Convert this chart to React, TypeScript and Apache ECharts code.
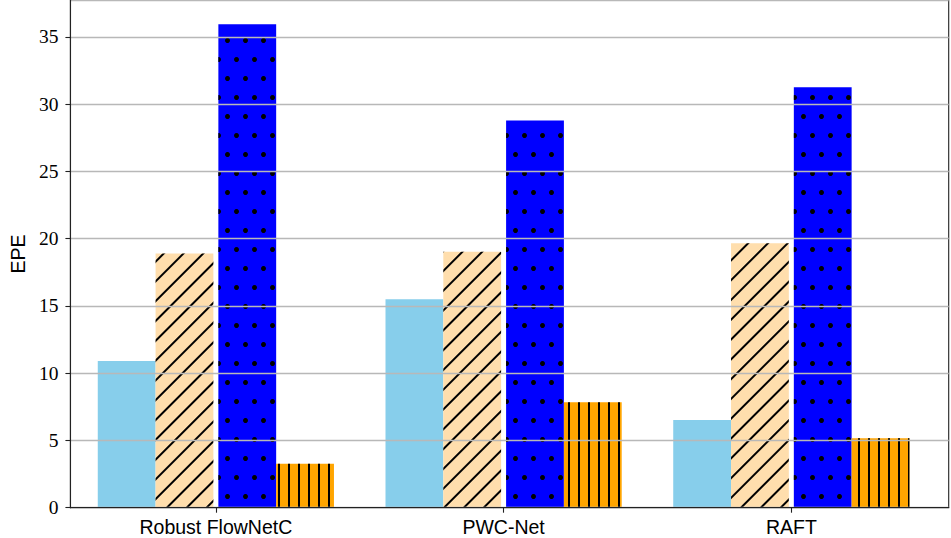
import React, { useEffect, useRef } from 'react';
import * as echarts from 'echarts';

const categories = ['Robust FlowNetC', 'PWC-Net', 'RAFT'];
const seriesSky = [10.9, 15.5, 6.52];
const seriesHatch = [18.9, 19.02, 19.65];
const seriesDots = [35.94, 28.78, 31.26];
const seriesVert = [3.27, 7.83, 5.16];
const yMin = 0;
const yMax = 37.7;
const yStep = 5;

export default function App() {
  const ref = useRef<HTMLDivElement>(null);
  useEffect(() => {
    document.body.style.margin = '0';
    const chart = echarts.init(ref.current!, null, { renderer: 'svg' });
    const barW = 57.8;
    const outerGrid = { left: 57, right: 2.3, top: 0.5, bottom: 30.3 };
    const innerGrid = { left: 72, right: 15.8, top: 0.5, bottom: 30.3 };
    const axisColor = '#222';
    chart.setOption({
      animation: false,
      backgroundColor: '#fff',
      grid: [
        { ...outerGrid, show: true, borderColor: axisColor, borderWidth: 1.1, backgroundColor: 'transparent', z: 10 },
        { ...innerGrid, show: false },
      ],
      xAxis: [
        {
          type: 'value', gridIndex: 0, min: -0.55, max: 2.55, z: 10,
          axisLine: { show: true, onZero: false, lineStyle: { color: axisColor, width: 1.1 } },
          axisTick: { show: false }, axisLabel: { show: false }, splitLine: { show: false },
        },
        {
          type: 'category', gridIndex: 1, data: categories, z: 10,
          axisLine: { show: false, onZero: false },
          axisTick: { show: true, alignWithLabel: true, length: 5, lineStyle: { color: axisColor, width: 1.1 } },
          axisLabel: { color: '#000', fontFamily: 'Liberation Sans', fontSize: 19.5, margin: 9 },
        },
      ],
      yAxis: [
        {
          type: 'value', gridIndex: 0, min: yMin, max: yMax, interval: yStep, z: 10,
          name: 'EPE', nameLocation: 'middle', nameGap: 40,
          nameTextStyle: { color: '#000', fontFamily: 'Liberation Sans', fontSize: 19.5 },
          axisLine: { show: true, onZero: false, lineStyle: { color: axisColor, width: 1.1 } },
          axisTick: { show: true, length: 5, lineStyle: { color: axisColor, width: 1.1 } },
          axisLabel: { color: '#000', fontFamily: 'Liberation Serif', fontSize: 19.5, margin: 12,
            showMaxLabel: false },
          splitLine: { show: true, lineStyle: { color: '#b8b8b8', width: 1.3 } },
        },
        { type: 'value', gridIndex: 1, min: yMin, max: yMax, show: false, axisLine: { onZero: false } },
      ],
      series: [
        {
          type: 'bar', xAxisIndex: 1, yAxisIndex: 1, data: seriesSky, barWidth: barW, barGap: '0%',
          itemStyle: { color: '#87CEEB' },
        },
        {
          type: 'bar', xAxisIndex: 1, yAxisIndex: 1, data: seriesHatch, barWidth: barW, barGap: '0%',
          itemStyle: {
            color: '#FFDEAD',
            decal: {
              symbol: 'rect', symbolSize: 1, symbolKeepAspect: false, color: '#000',
              dashArrayX: [10, 0], dashArrayY: [1.4, 11.6], rotation: -Math.PI / 4,
            },
          },
        },
        {
          type: 'bar', xAxisIndex: 1, yAxisIndex: 1, data: [null, null, null], barWidth: 5, barGap: '0%',
          itemStyle: { color: 'transparent' },
        },
        {
          type: 'bar', xAxisIndex: 1, yAxisIndex: 1, data: seriesDots, barWidth: barW, barGap: '0%',
          itemStyle: {
            color: '#0000FF',
            decal: {
              symbol: 'circle', symbolSize: 1, color: '#000',
              dashArrayX: [[5, 13], [0, 9, 5, 4]], dashArrayY: [5, 13.3], rotation: 0,
            },
          },
        },
        {
          type: 'bar', xAxisIndex: 1, yAxisIndex: 1, data: seriesVert, barWidth: barW, barGap: '0%',
          itemStyle: {
            color: '#FFA500',
            decal: {
              symbol: 'rect', symbolSize: 1, symbolKeepAspect: false, color: '#000',
              dashArrayX: [10, 0], dashArrayY: [1.4, 7.8], rotation: Math.PI / 2,
            },
          },
        },
      ],
    });
    return () => chart.dispose();
  }, []);
  return <div ref={ref} style={{ width: 951, height: 538 }} />;
}
